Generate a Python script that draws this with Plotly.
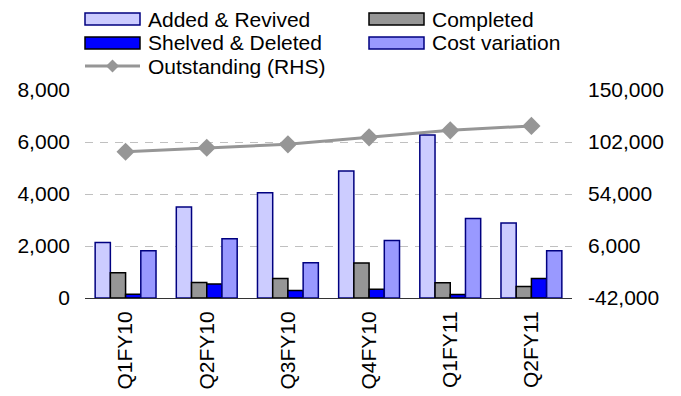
import plotly.graph_objects as go

# Quarterly project pipeline data
quarters = ["Q1FY10", "Q2FY10", "Q3FY10", "Q4FY10", "Q1FY11", "Q2FY11"]
added_revived = [2130, 3500, 4050, 4880, 6270, 2880]
completed = [970, 600, 750, 1350, 590, 440]
shelved_deleted = [140, 540, 290, 340, 130, 750]
cost_variation = [1820, 2280, 1360, 2210, 3060, 1820]
outstanding = [93000, 96700, 99900, 106300, 112800, 116800]

left_ticks = [0, 2000, 4000, 6000, 8000]
right_ticks = [-42000, 6000, 54000, 102000, 150000]

FONT = "Arial, Liberation Sans, sans-serif"
W, H = 681, 396
ML, MR, MT, MB = 85, 109, 90, 98
PW, PH = W - ML - MR, H - MT - MB


def px_x(x):
    return (x - ML) / PW


def px_y(y):
    return (H - MB - y) / PH


bar_styles = [
    ("Added & Revived", added_revived, "#CCCCFF", "#000080"),
    ("Completed", completed, "#969696", "#000000"),
    ("Shelved & Deleted", shelved_deleted, "#0000FF", "#000000"),
    ("Cost variation", cost_variation, "#9999FF", "#000080"),
]

fig = go.Figure()
for name, vals, fill, edge in bar_styles:
    fig.add_trace(go.Bar(
        x=quarters, y=vals, name=name,
        marker=dict(color=fill, line=dict(color=edge, width=1.5)),
        showlegend=False,
    ))

fig.add_trace(go.Scatter(
    x=quarters, y=outstanding, name="Outstanding (RHS)", yaxis="y2",
    mode="lines+markers",
    line=dict(color="#969696", width=3),
    marker=dict(symbol="diamond", size=14, color="#969696"),
    showlegend=False,
))

# Hand-built legend: wide swatches in two columns
shapes = []
annotations = []
legend_items = [
    # (label, column, row, kind, fill, edge)
    ("Added & Revived", 0, 0, "bar", "#CCCCFF", "#000080"),
    ("Completed", 1, 0, "bar", "#969696", "#000000"),
    ("Shelved & Deleted", 0, 1, "bar", "#0000FF", "#000000"),
    ("Cost variation", 1, 1, "bar", "#9999FF", "#000080"),
    ("Outstanding (RHS)", 0, 2, "line", "#969696", "#969696"),
]
col_x = [85, 369]
row_y = [19, 43, 66]
for label, col, row, kind, fill, edge in legend_items:
    x0, x1 = col_x[col], col_x[col] + 55
    yc = row_y[row]
    if kind == "bar":
        shapes.append(dict(
            type="rect", xref="paper", yref="paper",
            x0=px_x(x0), x1=px_x(x1), y0=px_y(yc + 6), y1=px_y(yc - 6),
            fillcolor=fill, line=dict(color=edge, width=1.5),
        ))
    else:
        shapes.append(dict(
            type="line", xref="paper", yref="paper",
            x0=px_x(x0), x1=px_x(x1), y0=px_y(yc), y1=px_y(yc),
            line=dict(color=fill, width=3),
        ))
        xm = (x0 + x1) / 2
        d = 6.5
        path = "M {} {} L {} {} L {} {} L {} {} Z".format(
            px_x(xm - d), px_y(yc), px_x(xm), px_y(yc - d),
            px_x(xm + d), px_y(yc), px_x(xm), px_y(yc + d))
        shapes.append(dict(
            type="path", xref="paper", yref="paper", path=path,
            fillcolor=fill, line=dict(color=fill, width=0),
        ))
    annotations.append(dict(
        text=label, xref="paper", yref="paper",
        x=px_x(x1 + 6), y=px_y(yc), xanchor="left", yanchor="middle",
        showarrow=False, font=dict(family=FONT, size=21, color="#000000"),
    ))

fig.update_layout(
    width=W, height=H,
    margin=dict(l=ML, r=MR, t=MT, b=MB, pad=0, autoexpand=False),
    paper_bgcolor="white", plot_bgcolor="white",
    barmode="group", bargap=0.25, bargroupgap=0,
    font=dict(family=FONT, size=21, color="#000000"),
    shapes=shapes, annotations=annotations,
    xaxis=dict(
        tickangle=-90, showline=True, linecolor="#333333", linewidth=1,
        showgrid=False, ticks="", ticklabelstandoff=4, automargin=False,
        tickfont=dict(family=FONT, size=21),
    ),
    yaxis=dict(
        range=[0, 8000], tickvals=left_ticks,
        ticktext=[f"{v:,}" for v in left_ticks],
        showgrid=True, gridcolor="#c0c0c0", griddash="8px,7px", gridwidth=1,
        zeroline=False, showline=False, ticks="", ticklabelstandoff=14,
        automargin=False, tickfont=dict(family=FONT, size=21),
    ),
    yaxis2=dict(
        range=[-42000, 150000], tickvals=right_ticks,
        ticktext=[f"{v:,}" for v in right_ticks],
        overlaying="y", side="right", showgrid=False, zeroline=False,
        showline=False, ticks="", ticklabelstandoff=15, automargin=False,
        tickfont=dict(family=FONT, size=21),
    ),
)

fig.write_html("out.html")
